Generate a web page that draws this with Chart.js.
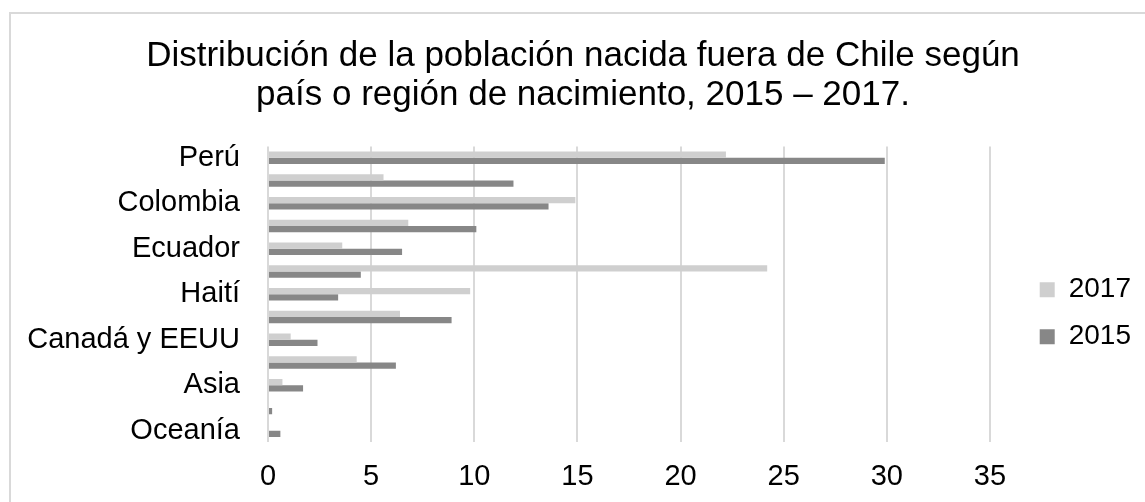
<!DOCTYPE html>
<html lang="es">
<head>
<meta charset="utf-8">
<script src="https://cdn.jsdelivr.net/npm/chart.js@4.4.1/dist/chart.umd.min.js"></script>
<style>
  html, body { margin: 0; padding: 0; background: #fff; overflow: hidden; }
  #frame {
    position: absolute; left: 9px; top: 12px; width: 1200px; height: 560px;
    border-left: 2px solid #d9d9d9; border-top: 2px solid #d9d9d9;
  }
  #poblacionChart { position: absolute; left: 0; top: 0; }
</style>
</head>
<body>
<div id="frame"></div>
<canvas id="poblacionChart" width="1145" height="502"></canvas>
<script>
const categorias = ['Perú', 'Argentina', 'Colombia', 'Bolivia', 'Ecuador', 'Venezuela', 'Haití',
  'Otros América', 'Canadá y EEUU', 'Europa', 'Asia', 'África', 'Oceanía'];
const valores2017 = [22.2, 5.6, 14.9, 6.8, 3.6, 24.2, 9.8, 6.4, 1.1, 4.3, 0.7, 0.05, 0.05];
const valores2015 = [29.9, 11.9, 13.6, 10.1, 6.5, 4.5, 3.4, 8.9, 2.4, 6.2, 1.7, 0.2, 0.6];
const ticksX = [0, 5, 10, 15, 20, 25, 30, 35];
const titulo = ['Distribución de la población nacida fuera de Chile según',
  'país o región de nacimiento, 2015 – 2017.'];

document.addEventListener('DOMContentLoaded', () => {
  Chart.defaults.font.family = "'Liberation Sans', Arial, sans-serif";
  Chart.defaults.color = '#000';

  const ctx = document.getElementById('poblacionChart').getContext('2d');

  new Chart(ctx, {
    type: 'bar',
    data: {
      labels: categorias,
      datasets: [
        { label: '2017', data: valores2017, backgroundColor: '#cfcfcf', borderWidth: 0 },
        { label: '2015', data: valores2015, backgroundColor: '#878787', borderWidth: 0 }
      ]
    },
    options: {
      indexAxis: 'y',
      responsive: false,
      animation: false,
      datasets: {
        bar: { categoryPercentage: 0.55, barPercentage: 1 }
      },
      layout: { padding: { left: 25, right: 4, top: 0, bottom: 0 } },
      scales: {
        x: {
          min: 0,
          // 35 queda donde termina la rejilla; el resto deja aire antes de la leyenda
          max: 36.49,
          afterBuildTicks: scale => { scale.ticks = ticksX.map(v => ({ value: v })); },
          afterFit: scale => { scale.height = 60; },
          grid: { color: '#d9d9d9', lineWidth: 2, drawTicks: false, tickLength: 0 },
          border: { display: false },
          ticks: { font: { size: 29 }, padding: 18, color: '#000' }
        },
        y: {
          afterFit: scale => { scale.width = 243; },
          grid: { display: false, drawTicks: false, tickLength: 0 },
          border: { display: false },
          ticks: {
            autoSkip: false,
            font: { size: 29 },
            padding: 28,
            color: '#000',
            // Excel solo muestra una etiqueta de cada dos
            callback: function (value, index) {
              return index % 2 === 0 ? this.getLabelForValue(value) : '';
            }
          }
        }
      },
      plugins: {
        title: {
          display: true,
          text: titulo,
          color: '#000',
          font: { size: 35, weight: 'normal', lineHeight: 1.135 },
          padding: { top: 36, bottom: 31 }
        },
        legend: {
          position: 'right',
          fullSize: false,
          title: { display: true, text: '', font: { size: 10, lineHeight: 1 }, padding: { top: 28, bottom: 0 } },
          labels: { boxWidth: 15, boxHeight: 15, padding: 19, font: { size: 28 }, color: '#000' }
        },
        tooltip: { enabled: false }
      }
    }
  });
});
</script>
</body>
</html>
